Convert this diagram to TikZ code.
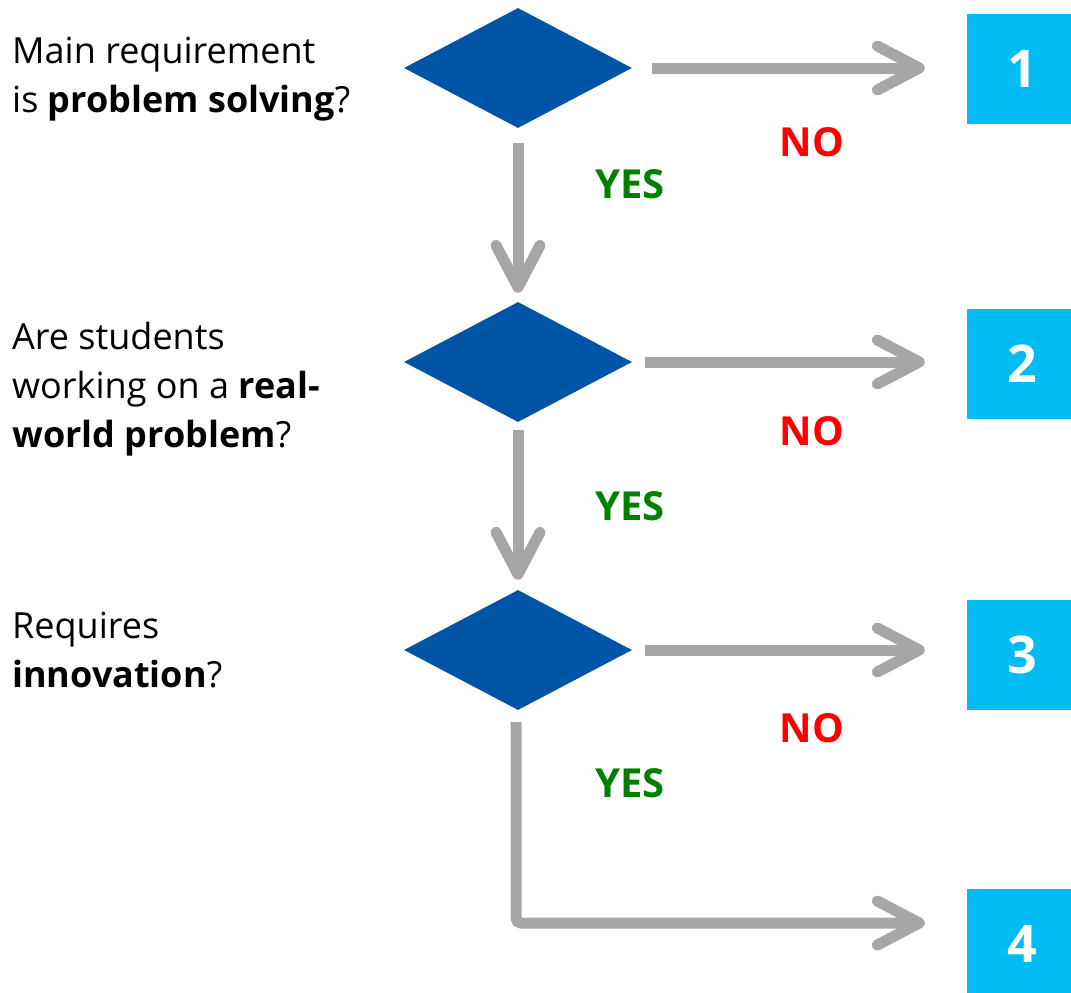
\documentclass[tikz,border=0pt]{standalone}
\usepackage{fontspec}
\setmainfont{Open Sans}
\usetikzlibrary{arrows.meta}
\usetikzlibrary{shapes.geometric}
\definecolor{decisionblue}{RGB}{0,84,166}
\definecolor{outcomecyan}{RGB}{0,188,242}
\definecolor{flowgray}{RGB}{166,166,166}
\definecolor{nored}{RGB}{255,0,0}
\definecolor{yesgreen}{RGB}{0,128,0}

\begin{document}
\begin{tikzpicture}[x = 1pt, y = -1pt]
\tikzstyle{DecisionStyle}=[shape = diamond,
                           aspect = 1.9,
                           minimum width = 228pt,
                           minimum height = 120pt,
                           inner sep = 0pt,
                           fill = decisionblue]
\tikzstyle{OutcomeStyle}=[shape = rectangle,
                          minimum size = 110pt,
                          inner sep = 0pt,
                          fill = outcomecyan,
                          text = white,
                          font = \bfseries\fontsize{52}{52}\selectfont]
\tikzstyle{FlowStyle}=[draw = flowgray,
                       line width = 11pt,
                       -{Straight Barb[length = 42pt, width = 44pt, round]}]
\tikzstyle{QuestionStyle}=[anchor = base west, align = left,
                           inner sep = 0pt,
                           font = \fontsize{36}{49}\selectfont]
\tikzstyle{NoStyle}=[text = nored, font = \bfseries\fontsize{40}{40}\selectfont]
\tikzstyle{YesStyle}=[text = yesgreen, font = \bfseries\fontsize{40}{40}\selectfont]
\useasboundingbox (0,0) rectangle (1071,993);
\node[DecisionStyle] (d1) at (518, 68) {};
\node[DecisionStyle] (d2) at (518, 362) {};
\node[DecisionStyle] (d3) at (518, 650) {};
\node[OutcomeStyle] (b1) at (1022, 69) {1};
\node[OutcomeStyle] (b2) at (1022, 364) {2};
\node[OutcomeStyle] (b3) at (1022, 655) {3};
\node[OutcomeStyle] (b4) at (1022, 944) {4};
% base of a multi-line node is its last line
\node[QuestionStyle] (q1) at (12, 112) {Main requirement\\is \textbf{problem solving}?};
\node[QuestionStyle] (q2) at (12, 447) {Are students\\working on a \textbf{real-}\\\textbf{world problem}?};
\node[QuestionStyle] (q3) at (12, 687) {Requires\\\textbf{innovation}?};
\node[NoStyle] (n1) at (812, 142) {NO};
\node[NoStyle] (n2) at (812, 431) {NO};
\node[NoStyle] (n3) at (812, 728) {NO};
\node[YesStyle] (y1) at (630, 184) {YES};
\node[YesStyle] (y2) at (630, 506) {YES};
\node[YesStyle] (y3) at (630, 783) {YES};
\draw[FlowStyle, shorten <= 20pt, shorten >= 42pt] (d1.east) -- (d1.east -| b1.west);
\draw[FlowStyle, shorten <= 13pt, shorten >= 42pt] (d2.east) -- (d2.east -| b2.west);
\draw[FlowStyle, shorten <= 13pt, shorten >= 42pt] (d3.east) -- (d3.east -| b3.west);
\draw[FlowStyle, shorten <= 15pt, shorten >= 9pt] (d1.south) -- (d2.north);
\draw[FlowStyle, shorten <= 8pt, shorten >= 10pt] (d2.south) -- (d3.north);
\draw[FlowStyle, rounded corners = 5pt, shorten <= 12pt, shorten >= 42pt]
  ([xshift = -2pt]d3.south) |- ([yshift = 21pt]b4.west);
\end{tikzpicture}
\end{document}
